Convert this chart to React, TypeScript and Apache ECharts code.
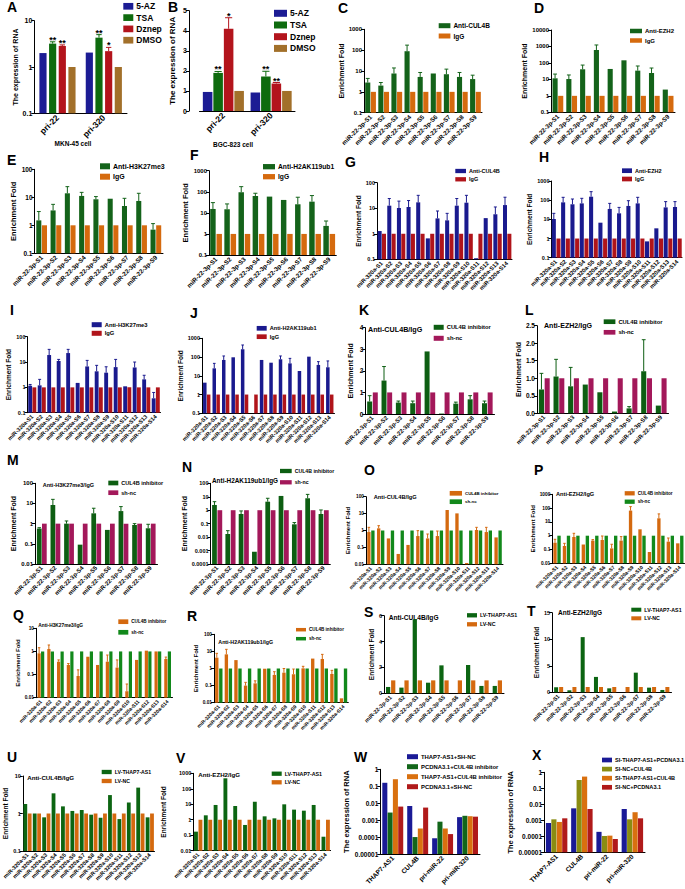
import React, { useEffect, useRef } from "react";
import * as echarts from "echarts";

const FONT = "'Liberation Sans', Arial, Helvetica, sans-serif";

// ---------------- categories ----------------
const catPri = ["pri-22", "pri-320"];
const catMiR22 = ["miR-22-3p-S1", "miR-22-3p-S2", "miR-22-3p-S3", "miR-22-3p-S4", "miR-22-3p-S5", "miR-22-3p-S6", "miR-22-3p-S7", "miR-22-3p-S8", "miR-22-3p-S9"];
const catMiR320 = ["miR-320a-S1", "miR-320a-S2", "miR-320a-S3", "miR-320a-S4", "miR-320a-S5", "miR-320a-S6", "miR-320a-S7", "miR-320a-S8", "miR-320a-S9", "miR-320a-S10", "miR-320a-S11", "miR-320a-S12", "miR-320a-S13", "miR-320a-S14"];
const catRNA = ["THAP7-AS1", "CUL4B", "pri-miR-22", "pri-miR-320"];

// ---------------- A (MKN-45 cell) ----------------
const a5AZ = [2.0, 2.05];
const aTSA = [3.2, 4.3];
const aTSASd = [0.3, 0.7];
const aDznep = [2.85, 2.2];
const aDznepSd = [0.15, 0.45];
const aDMSO = [1, 1];
const aStarsTSA = ["**", "**"];
const aStarsDznep = ["**", "*"];

// ---------------- B (BGC-823 cell) ----------------
const b5AZ = [0.95, 0.92];
const bTSA = [1.9, 1.72];
const bTSASd = [0.07, 0.26];
const bDznep = [4.1, 1.37];
const bDznepSd = [0.55, 0.05];
const bDMSO = [1.0, 1.0];
const bStarsTSA = ["**", "**"];
const bStarsDznep = ["*", "**"];

// ---------------- C-F (miR-22 ChIP) ----------------
const cAnti = [2.8, 2.0, 7.6, 89, 5.2, 7.6, 7.0, 5.2, 4.1];
const cAntiSd = [1.6, 0.8, 6.4, 85, 3.3, null, 5.3, 3.3, 2.2];
const cIgG = [1, 1, 1, 1, 1, 1, 1, 1, 1];
const dAnti = [11.6, 10.5, 41, 610, 43, 144, 34, 24.5, 2.4];
const dAntiSd = [9.4, 8, 33, 620, null, null, 31, 24.5, null];
const dIgG = [1, 1, 1, 1, 1, 1, 1, 1, 1];
const eAnti = [1.5, 3.4, 13.9, 11.2, 8.5, 8.9, 4.9, 7.4, 0.7];
const eAntiSd = [1.6, 2.2, 10.1, 3.8, 2.1, null, 4.3, 6.5, 0.45];
const eIgG = [1, 1, 1, 1, 1, 1, 1, 1, 1];
const fAnti = [15.3, 14.8, 95, 63, 59, 41, 25.5, 34, 2.4];
const fAntiSd = [15.3, 11.7, 80, 22, null, null, 29.5, 32, 1.7];
const fIgG = [1, 1, 1, 1, 1, 1, 1, 1, 1];

// ---------------- G-J (miR-320a ChIP) ----------------
const gAnti = [1.28, 12.6, 10.2, 11.2, 17, 0.66, 4.0, 3.35, 12.6, 16.5, 0.11, 4.1, 5.8, 13.3];
const gAntiSd = [null, 11.4, 8.8, 8.8, 15, null, 3.8, 2.95, 11.4, 15.5, null, null, 5.4, 13.7];
const gIgG = [1, 1, 1, 1, 1, 1, 1, 1, 1, 1, 1, 1, 1, 1];
const hAnti = [10.4, 77, 61, 68, 152, 6.7, 35, 20.6, 50, 68, 0.71, 3.4, 42, 44];
const hAntiSd = [10.2, 64, 54, 57, 126, null, 33, 21.4, 44, 73, null, null, 42, 40];
const hIgG = [1, 1, 1, 1, 1, 1, 1, 1, 1, 1, 1, 1, 1, 1];
const iAnti = [1.16, 1.2, 18.9, 11, 22.6, 1.5, 6.7, 4.3, 3.8, 6.3, 1.1, 6.1, 2.07, 0.37];
const iAntiSd = [0.14, 0.87, 12.7, 1.7, 9, null, 4.9, 3.1, 2.7, 6.4, null, 3.9, 0.93, 0.26];
const iIgG = [1, 1, 1, 1, 1, 1, 1, 1, 1, 1, 1, 1, 1, 1];
const jAnti = [4.3, 25, 70, 97, 260, null, 70, 50, 76, 46, 18, 105, 38, 28.5];
const jAntiSd = [null, 21, 44, null, 180, null, null, null, 38, 39, null, null, 19, 33.5];
const jIgG = [1, 1, 1, 1, 1, 1, 1, 1, 1, 1, 1, 1, 1, 1];

// ---------------- K-N (CUL4B inhibitor, miR-22) ----------------
const kInh = [0.58, 1.55, 0.53, 0.5, 2.9, 0.02, 0.48, 0.68, 0.5];
const kInhSd = [0.27, 0.65, 0.07, 0.1, null, null, 0.07, 0.17, 0.1];
const kNc = [1, 1, 1, 1, 1, 1, 1, 1, 1];
const lInh = [0.68, 1.05, 0.77, 0.82, 0.6, 0.05, 0.14, 1.2, 0.22];
const lInhSd = [0.46, 0.49, 0.54, null, null, null, 0.05, 0.9, null];
const lNc = [1, 1, 1, 1, 1, 1, 1, 1, 1];
const mInh = [0.57, 8.4, 1.0, 0.091, 3.25, 0.49, 4.2, 0.86, 0.59];
const mInhSd = [0.06, 7.6, 0.36, null, 2.55, null, 2.8, 0.14, 0.34];
const mNc = [1, 1, 1, 1, 1, 1, 1, 1, 1];
const nInh = [2.45, 0.017, 0.52, 0.00083, 4.3, 11.5, 0.089, 7.7, 0.52];
const nInhSd = [1.85, 0.013, 0.36, null, 3.4, null, 0.031, 7.3, 0.52];
const nNc = [1, 1, 1, 1, 1, 1, 1, 1, 1];

// ---------------- O-R (CUL4B inhibitor, miR-320a) ----------------
const oInh = [0.81, 1.34, 0.34, 0.041, 0.14, 0.47, 0.34, 0.47, 16.3, 10.3, 0.012, 1.07, 0.81, 0.39];
const oInhSd = [0.73, 0.59, null, null, null, 0.51, 0.28, 0.46, null, null, null, 0.47, 0.73, null];
const oNc = [1, 1, 1, 1, 1, 1, 1, 1, 1, 1, 1, 1, 1, 1];
const pInh = [0.31, 0.18, 0.81, 0.23, 0.44, 0.49, 0.12, 0.44, 66, 2.9, 0.066, 18.2, 0.37, 0.28];
const pInhSd = [0.24, 0.1, 0.68, null, 0.08, 0.46, 0.12, 0.42, 62, null, null, 19.8, 0.31, null];
const pNc = [1, 1, 1, 1, 1, 1, 1, 1, 1, 1, 1, 1, 1, 1];
const qInh = [0.83, 1.27, 0.36, 0.26, 0.087, 0.59, 0.26, 0.36, 0.2, 0.019, 0.43, 1.08, 1.0, 0.47];
const qInhSd = [0.62, 0.63, 0.07, 0.04, 0.073, null, null, 0.34, 0.23, 0.02, null, null, null, 0.1];
const qNc = [1, 1, 1, 1, 1, 1, 1, 1, 1, 1, 1, 1, 1, 1];
const rInh = [4.3, 6.7, 3.1, 0.1, 0.135, 0.97, 0.42, 0.57, 0.46, 1.02, 3.8, 3.6, 0.48, 0.018];
const rInhSd = [3.4, 6.5, null, 0.055, 0.055, null, 0.23, 0.43, 0.47, 0.32, null, 3.1, 0.3, null];
const rNc = [1, 1, 1, 1, 1, 1, 1, 1, 1, 1, 1, 1, 1, 1];

// ---------------- S-V (LV-THAP7-AS1) ----------------
const sLv = [0.49, 0.44, 5.72, 0.82, 2.16, 0, 2.19, 0.57, 0.57];
const sNc = [1, 1, 1, 1, 1, 1, 1, 1, 1];
const tLv = [0.95, 0.38, 10.4, 2.9, 0.75, 0, 3.7, 0.88, 0.44];
const tNc = [1, 1, 1, 1, 1, 1, 1, 1, 1];
const uLv = [1.79, 1.0, 0.79, 3.45, 1.55, 1.17, 1.24, 0.93, 0.77, 3.1, 0.71, 1.98, 4.9, 0.79];
const uNc = [1, 1, 1, 1, 1, 1, 1, 1, 1, 1, 1, 1, 1, 1];
const vLv = [0.17, 1.93, 9.0, 475, 7.7, 0.46, 14.7, 1.66, 1.23, 9.9, 4.5, 3.85, 9.0, 0.08];
const vNc = [1, 1, 1, 1, 1, 1, 1, 1, 1, 1, 1, 1, 1, 1];

// ---------------- W / X (RNA expression) ----------------
const wThapShnc = [0.16, 0.0068, 0.000085, 0.0015];
const wPcdnaInh = [0.0028, 0.0001, 0.00081, 0.0018];
const wThapInh = [0.26, 0.00032, 0.00032, 0.0017];
const wPcdnaShnc = [0.0063, 0.0055, 0.00015, 0.0016];
const xSiThapPcdna = [0.00068, 0.0056, 0.00019, 0.0051];
const xSiNcCul4b = [0.00115, 0.33, 0.000105, 0.00115];
const xSiThapCul4b = [0.00079, 0.54, 0.00011, 0.0032];
const xSiNcPcdna = [0.00133, 0.0051, 0.000068, 0.00133];

// ---------------- colours ----------------
const BLUE = "#1c1c94";
const GREEN_A = "#0e6b0e";
const RED = "#b3141c";
const BROWN = "#a2702a";
const G_ANTI = "#14631a";
const O_IGG = "#d56a0e";
const B_ANTI = "#1a1a8e";
const R_IGG = "#b0141a";
const G_INH = "#0d5e12";
const PINK = "#a3185a";
const O_INH = "#d4690f";
const G_SH = "#12891b";
const G_LV = "#0c6512";
const O_LV = "#d4690f";
const W_BLUE = "#1a1a96";
const W_GREEN = "#12661a";
const W_ORANGE = "#d9700f";
const W_RED = "#b01a1a";
const X_OLIVE = "#8a8c12";

type Ser = { name: string; data: (number | null)[]; sd?: (number | null)[]; stars?: string[]; color: string };
type Leg = { left: number; cy: number; pitch: number; size: number; iw: number; ih: number };
type Panel = {
  id: string; lx: number; ly: number;
  left: number; right: number; top: number; bottom: number; offset?: number;
  yType: "log" | "value"; yMin: number; yMax: number; yInterval?: number; fixed1?: boolean;
  yName: string; yNameGap: number; yNameSize: number; yLabelSize: number; xLabelSize: number;
  cats: string[]; series: Ser[]; catGap: number; barGap: number; legend: Leg;
  title?: { text: string; x: number; cy: number; size: number };
  xName?: { text: string; cx: number; cy: number; size: number };
};

const lg = (left: number, cy: number, pitch: number, size: number, iw: number, ih: number): Leg => ({ left, cy, pitch, size, iw, ih });
const EF = "Enrichment Fold";
const RNA = "The expression of RNA";

const panels: Panel[] = [
  { id: "A", lx: 7, ly: 2, left: 34.3, right: 127, top: 20.7, bottom: 113.3, yType: "log", yMin: 0.1, yMax: 10,
    yName: RNA, yNameGap: 15.8, yNameSize: 7, yLabelSize: 7, xLabelSize: 8.5, cats: catPri,
    series: [
      { name: "5-AZ", data: a5AZ, color: BLUE },
      { name: "TSA", data: aTSA, sd: aTSASd, stars: aStarsTSA, color: GREEN_A },
      { name: "Dznep", data: aDznep, sd: aDznepSd, stars: aStarsDznep, color: RED },
      { name: "DMSO", data: aDMSO, color: BROWN }],
    catGap: 0.22, barGap: 0.35, legend: lg(123.3, 6.3, 11.3, 8.5, 10, 6.7),
    xName: { text: "MKN-45 cell", cx: 73, cy: 143, size: 6.5 } },
  { id: "B", lx: 168, ly: 2, left: 199.5, right: 295, top: 10.7, bottom: 111, offset: 10.5, yType: "value", yMin: 0, yMax: 5, yInterval: 1,
    yName: RNA, yNameGap: 12.2, yNameSize: 8, yLabelSize: 7, xLabelSize: 8.5, cats: catPri,
    series: [
      { name: "5-AZ", data: b5AZ, color: BLUE },
      { name: "TSA", data: bTSA, sd: bTSASd, stars: bStarsTSA, color: GREEN_A },
      { name: "Dznep", data: bDznep, sd: bDznepSd, stars: bStarsDznep, color: RED },
      { name: "DMSO", data: bDMSO, color: BROWN }],
    catGap: 0.14, barGap: 0.1, legend: lg(274, 13.3, 11.7, 8.5, 13, 7),
    xName: { text: "BGC-823 cell", cx: 233, cy: 144, size: 6.5 } },
  { id: "C", lx: 338, ly: 3, left: 364, right: 482, top: 29.3, bottom: 112.7, yType: "log", yMin: 0.1, yMax: 1000,
    yName: EF, yNameGap: 18.5, yNameSize: 7, yLabelSize: 6, xLabelSize: 6.2, cats: catMiR22,
    series: [{ name: "Anti-CUL4B", data: cAnti, sd: cAntiSd, color: G_ANTI }, { name: "IgG", data: cIgG, color: O_IGG }],
    catGap: 0.18, barGap: 0.1, legend: lg(438.7, 25.7, 10.3, 6.5, 11.7, 5) },
  { id: "D", lx: 534, ly: 3, left: 551, right: 675, top: 30, bottom: 112.3, yType: "log", yMin: 0.1, yMax: 10000,
    yName: EF, yNameGap: 18.1, yNameSize: 7, yLabelSize: 6, xLabelSize: 6.2, cats: catMiR22,
    series: [{ name: "Anti-EZH2", data: dAnti, sd: dAntiSd, color: G_ANTI }, { name: "IgG", data: dIgG, color: O_IGG }],
    catGap: 0.22, barGap: 0.1, legend: lg(630, 31, 9.5, 6, 12, 4.5) },
  { id: "E", lx: 7, ly: 155, left: 34.5, right: 163, top: 169.3, bottom: 253.3, yType: "log", yMin: 0.1, yMax: 100,
    yName: EF, yNameGap: 15.8, yNameSize: 7.5, yLabelSize: 6.5, xLabelSize: 6.3, cats: catMiR22,
    series: [{ name: "Anti-H3K27me3", data: eAnti, sd: eAntiSd, color: G_ANTI }, { name: "IgG", data: eIgG, color: O_IGG }],
    catGap: 0.25, barGap: 0.12, legend: lg(100, 166.3, 10.4, 7, 10, 6) },
  { id: "F", lx: 190, ly: 150, left: 209, right: 336.3, top: 170.7, bottom: 255, yType: "log", yMin: 0.1, yMax: 1000,
    yName: EF, yNameGap: 18.1, yNameSize: 7.5, yLabelSize: 6, xLabelSize: 6.3, cats: catMiR22,
    series: [{ name: "Anti-H2AK119ub1", data: fAnti, sd: fAntiSd, color: G_ANTI }, { name: "IgG", data: fIgG, color: O_IGG }],
    catGap: 0.17, barGap: 0.15, legend: lg(263, 166.7, 10, 6.7, 12, 5.3) },
  { id: "G", lx: 345, ly: 157, left: 377, right: 512, top: 182.7, bottom: 259.3, yType: "log", yMin: 0.1, yMax: 100,
    yName: EF, yNameGap: 12.5, yNameSize: 6.5, yLabelSize: 5.5, xLabelSize: 5.8, cats: catMiR320,
    series: [{ name: "Anti-CUL4B", data: gAnti, sd: gAntiSd, color: B_ANTI }, { name: "IgG", data: gIgG, color: R_IGG }],
    catGap: 0.13, barGap: 0.08, legend: lg(455.3, 171, 8.3, 5.5, 10.7, 4.3) },
  { id: "H", lx: 539, ly: 152, left: 551.5, right: 682, top: 181, bottom: 257.7, yType: "log", yMin: 0.1, yMax: 1000,
    yName: EF, yNameGap: 14.8, yNameSize: 6.5, yLabelSize: 5.5, xLabelSize: 5.8, cats: catMiR320,
    series: [{ name: "Anti-EZH2", data: hAnti, sd: hAntiSd, color: B_ANTI }, { name: "IgG", data: hIgG, color: R_IGG }],
    catGap: 0.06, barGap: 0.15, legend: lg(622, 170.7, 8.3, 5.5, 10, 4.7) },
  { id: "I", lx: 10, ly: 305, left: 27.5, right: 160.5, top: 336.7, bottom: 412.7, yType: "log", yMin: 0.1, yMax: 100,
    yName: EF, yNameGap: 12.2, yNameSize: 6.5, yLabelSize: 5.5, xLabelSize: 5.6, cats: catMiR320,
    series: [{ name: "Anti-H3K27me3", data: iAnti, sd: iAntiSd, color: B_ANTI }, { name: "IgG", data: iIgG, color: R_IGG }],
    catGap: 0.15, barGap: 0.08, legend: lg(91.7, 324.7, 8.6, 5.8, 10, 5) },
  { id: "J", lx: 190, ly: 308, left: 202, right: 334.5, top: 338.3, bottom: 413.3, yType: "log", yMin: 0.1, yMax: 1000,
    yName: EF, yNameGap: 14.8, yNameSize: 6.5, yLabelSize: 5.5, xLabelSize: 5.6, cats: catMiR320,
    series: [{ name: "Anti-H2AK119ub1", data: jAnti, sd: jAntiSd, color: B_ANTI }, { name: "IgG", data: jIgG, color: R_IGG }],
    catGap: 0.22, barGap: 0.1, legend: lg(256.7, 328.3, 8.4, 5.6, 10, 4.7) },
  { id: "K", lx: 359, ly: 305, left: 365.3, right: 494.5, top: 327.7, bottom: 414, yType: "value", yMin: 0, yMax: 4, yInterval: 1,
    yName: EF, yNameGap: 11.5, yNameSize: 7, yLabelSize: 6.5, xLabelSize: 6, cats: catMiR22,
    series: [{ name: "CUL4B inhibitor", data: kInh, sd: kInhSd, color: G_INH }, { name: "sh-nc", data: kNc, color: PINK }],
    catGap: 0.26, barGap: 0.13, legend: lg(433.7, 327.3, 11, 5.8, 10, 5),
    title: { text: "Anti-CUL4B/IgG", x: 368, cy: 329.3, size: 7.2 } },
  { id: "L", lx: 525, ly: 305, left: 537, right: 668.5, top: 325.7, bottom: 413.3, yType: "value", yMin: 0, yMax: 2.5, yInterval: 0.5, fixed1: true,
    yName: EF, yNameGap: 14.1, yNameSize: 7, yLabelSize: 6.5, xLabelSize: 6, cats: catMiR22,
    series: [{ name: "CUL4B inhibitor", data: lInh, sd: lInhSd, color: G_INH }, { name: "sh-nc", data: lNc, color: PINK }],
    catGap: 0.26, barGap: 0.13, legend: lg(603.7, 321.7, 10.6, 5.8, 11.7, 4.7),
    title: { text: "Anti-EZH2/IgG", x: 544, cy: 325.7, size: 7.1 } },
  { id: "M", lx: 7, ly: 455, left: 35, right: 157.5, top: 483.3, bottom: 564, yType: "log", yMin: 0.01, yMax: 100,
    yName: EF, yNameGap: 15.8, yNameSize: 7, yLabelSize: 6, xLabelSize: 6, cats: catMiR22,
    series: [{ name: "CUL4B inhibitor", data: mInh, sd: mInhSd, color: G_INH }, { name: "sh-nc", data: mNc, color: PINK }],
    catGap: 0.28, barGap: 0.07, legend: lg(108.3, 483, 9.7, 5.5, 10, 4.7),
    title: { text: "Anti-H3K27me3/IgG", x: 42.7, cy: 485, size: 5.5 } },
  { id: "N", lx: 182, ly: 462, left: 210.5, right: 330.3, top: 483.3, bottom: 564, yType: "log", yMin: 0.0001, yMax: 100,
    yName: EF, yNameGap: 16.5, yNameSize: 7, yLabelSize: 5.5, xLabelSize: 6, cats: catMiR22,
    series: [{ name: "CUL4B inhibitor", data: nInh, sd: nInhSd, color: G_INH }, { name: "sh-nc", data: nNc, color: PINK }],
    catGap: 0.24, barGap: 0.13, legend: lg(280, 471, 11.3, 5.2, 11.7, 4.3),
    title: { text: "Anti-H2AK119ub1/IgG", x: 212, cy: 480.7, size: 6.4 } },
  { id: "O", lx: 364, ly: 465, left: 366, right: 503, top: 496.7, bottom: 564.3, yType: "log", yMin: 0.01, yMax: 100,
    yName: EF, yNameGap: 9.8, yNameSize: 6, yLabelSize: 4.8, xLabelSize: 5, cats: catMiR320,
    series: [{ name: "CUL4B inhibitor", data: oInh, sd: oInhSd, color: O_INH }, { name: "sh-nc", data: oNc, color: G_SH }],
    catGap: 0.25, barGap: 0.2, legend: lg(449.7, 493.3, 8.4, 4.4, 12.3, 4.7),
    title: { text: "Anti-CUL4B/IgG", x: 373.7, cy: 497.3, size: 5.7 } },
  { id: "P", lx: 534, ly: 465, left: 552.3, right: 684.5, top: 494.3, bottom: 563.3, yType: "log", yMin: 0.01, yMax: 1000,
    yName: EF, yNameGap: 11.5, yNameSize: 6, yLabelSize: 4.8, xLabelSize: 5, cats: catMiR320,
    series: [{ name: "CUL4B inhibitor", data: pInh, sd: pInhSd, color: O_INH }, { name: "sh-nc", data: pNc, color: G_SH }],
    catGap: 0.22, barGap: 0.2, legend: lg(624.7, 493.3, 8.4, 4.6, 10, 4.3),
    title: { text: "Anti-EZH2/IgG", x: 556, cy: 494.3, size: 5.65 } },
  { id: "Q", lx: 13, ly: 610, left: 36, right: 172.5, top: 628.3, bottom: 697.7, yType: "log", yMin: 0.01, yMax: 10,
    yName: EF, yNameGap: 12.5, yNameSize: 6, yLabelSize: 4.8, xLabelSize: 5, cats: catMiR320,
    series: [{ name: "CUL4B inhibitor", data: qInh, sd: qInhSd, color: O_INH }, { name: "sh-nc", data: qNc, color: G_SH }],
    catGap: 0.31, barGap: 0.1, legend: lg(118.3, 621.7, 10.6, 4.6, 10, 4.7),
    title: { text: "Anti-H3K27me3/IgG", x: 38.3, cy: 625, size: 4.8 } },
  { id: "R", lx: 187, ly: 611, left: 214, right: 348.3, top: 634.3, bottom: 702.7, yType: "log", yMin: 0.01, yMax: 100,
    yName: EF, yNameGap: 13.1, yNameSize: 6, yLabelSize: 4.8, xLabelSize: 5, cats: catMiR320,
    series: [{ name: "CUL4B inhibitor", data: rInh, sd: rInhSd, color: O_INH }, { name: "sh-nc", data: rNc, color: G_SH }],
    catGap: 0.23, barGap: 0.2, legend: lg(296, 629.7, 9, 4.6, 10, 3.5),
    title: { text: "Anti-H2AK119ub1/IgG", x: 218.3, cy: 641.7, size: 5.3 } },
  { id: "S", lx: 364, ly: 607, left: 384, right: 504, top: 615.7, bottom: 693.3, yType: "value", yMin: 0, yMax: 6, yInterval: 2,
    yName: EF, yNameGap: 6.5, yNameSize: 6.5, yLabelSize: 5.5, xLabelSize: 5.6, cats: catMiR22,
    series: [{ name: "LV-THAP7-AS1", data: sLv, color: G_LV }, { name: "LV-NC", data: sNc, color: O_LV }],
    catGap: 0.3, barGap: 0.2, legend: lg(467, 615.3, 9, 5.3, 10, 4.3),
    title: { text: "Anti-CUL4B/IgG", x: 388.7, cy: 617.3, size: 6.6 } },
  { id: "T", lx: 527, ly: 606, left: 552, right: 671.5, top: 612.7, bottom: 692.3, yType: "value", yMin: 0, yMax: 15, yInterval: 5,
    yName: EF, yNameGap: 12.2, yNameSize: 6.5, yLabelSize: 5.5, xLabelSize: 5.6, cats: catMiR22,
    series: [{ name: "LV-THAP7-AS1", data: tLv, color: G_LV }, { name: "LV-NC", data: tNc, color: O_LV }],
    catGap: 0.32, barGap: 0.25, legend: lg(631.3, 609.7, 8.6, 5.3, 10, 4),
    title: { text: "Anti-EZH2/IgG", x: 558, cy: 612.3, size: 6.5 } },
  { id: "U", lx: 7, ly: 752, left: 20.2, right: 154.5, top: 776, bottom: 851, yType: "log", yMin: 0.1, yMax: 10,
    yName: EF, yNameGap: 10.5, yNameSize: 6.5, yLabelSize: 5.5, xLabelSize: 5.5, cats: catMiR320,
    series: [{ name: "LV-THAP7-AS1", data: uLv, color: G_LV }, { name: "LV-NC", data: uNc, color: O_LV }],
    catGap: 0.13, barGap: 0.15, legend: lg(101.7, 772, 9, 5.2, 10, 4.3),
    title: { text: "Anti-CUL4B/IgG", x: 27.3, cy: 777.7, size: 6.2 } },
  { id: "V", lx: 176, ly: 753, left: 193.3, right: 330.6, top: 773.3, bottom: 850.7, yType: "log", yMin: 0.01, yMax: 1000,
    yName: EF, yNameGap: 26.5, yNameSize: 6.5, yLabelSize: 5.5, xLabelSize: 5.5, cats: catMiR320,
    series: [{ name: "LV-THAP7-AS1", data: vLv, color: G_LV }, { name: "LV-NC", data: vNc, color: O_LV }],
    catGap: 0.15, barGap: 0.15, legend: lg(271.7, 773.7, 8.6, 5.3, 10, 4.3),
    title: { text: "Anti-EZH2/IgG", x: 198.3, cy: 774.3, size: 6.15 } },
  { id: "W", lx: 354, ly: 752, left: 380.3, right: 480, top: 769.3, bottom: 854, yType: "log", yMin: 0.00001, yMax: 1,
    yName: RNA, yNameGap: 23.1, yNameSize: 7.5, yLabelSize: 6.5, xLabelSize: 6.6, cats: catRNA,
    series: [
      { name: "THAP7-AS1+SH-NC", data: wThapShnc, color: W_BLUE },
      { name: "PCDNA3.1+CUL4B inhibitor", data: wPcdnaInh, color: W_GREEN },
      { name: "THAP7-AS1+CUL4B inhibitor", data: wThapInh, color: W_ORANGE },
      { name: "PCDNA3.1+SH-NC", data: wPcdnaShnc, color: W_RED }],
    catGap: 0.16, barGap: 0.05, legend: lg(407, 756.7, 10, 5.9, 11, 5) },
  { id: "X", lx: 532, ly: 750, left: 544, right: 645, top: 772.3, bottom: 852.3, yType: "log", yMin: 0.00001, yMax: 1,
    yName: RNA, yNameGap: 21.5, yNameSize: 7.5, yLabelSize: 6.5, xLabelSize: 6.6, cats: catRNA,
    series: [
      { name: "SI-THAP7-AS1+PCDNA3.1", data: xSiThapPcdna, color: W_BLUE },
      { name: "SI-NC+CUL4B", data: xSiNcCul4b, color: X_OLIVE },
      { name: "SI-THAP7-AS1+CUL4B", data: xSiThapCul4b, color: W_ORANGE },
      { name: "SI-NC+PCDNA3.1", data: xSiNcPcdna, color: W_RED }],
    catGap: 0.15, barGap: 0.05, legend: lg(602, 760, 9.1, 5.6, 10, 4.7) },
];

const fmtNum = (v: number) => String(Number(Number(v).toPrecision(10)));

function buildOption() {
  const grid: any[] = [];
  const xAxis: any[] = [];
  const yAxis: any[] = [];
  const legend: any[] = [];
  const series: any[] = [];
  const graphic: any[] = [];

  panels.forEach((p, gi) => {
    grid.push({ left: p.left, top: p.top, width: p.right - p.left, height: p.bottom - p.top, containLabel: false });
    xAxis.push({
      gridIndex: gi, type: "category", data: p.cats,
      axisLine: { onZero: false, lineStyle: { color: "#000", width: 1 } },
      axisTick: { alignWithLabel: true, length: 2, interval: 0, lineStyle: { color: "#000" } },
      axisLabel: { rotate: 45, interval: 0, margin: 3, fontSize: p.xLabelSize, fontWeight: "bold", color: "#000", fontFamily: FONT },
      splitLine: { show: false },
    });
    const isLog = p.yType === "log";
    const decades = isLog ? Math.round(Math.log10(p.yMax / p.yMin)) : 0;
    yAxis.push({
      gridIndex: gi, type: p.yType, min: p.yMin, max: p.yMax,
      ...(isLog ? { logBase: 10, splitNumber: decades } : { interval: p.yInterval }),
      startValue: p.yMin,
      offset: p.offset || 0,
      axisLine: { show: true, lineStyle: { color: "#000", width: 1 } },
      axisTick: { show: true, length: 3, lineStyle: { color: "#000" } },
      axisLabel: {
        margin: 2, fontSize: p.yLabelSize, fontWeight: "bold", color: "#000", fontFamily: FONT,
        formatter: (v: number) => (p.fixed1 ? Number(v).toFixed(1) : fmtNum(v)),
      },
      splitLine: { show: false },
      name: p.yName, nameLocation: "middle", nameRotate: 90, nameGap: p.yNameGap,
      nameTextStyle: { fontSize: p.yNameSize, fontWeight: "bold", color: "#000", fontFamily: FONT },
    });

    const L = p.legend;
    const lh = L.size + 2;
    const boxH = Math.max(lh, L.ih);
    legend.push({
      orient: "vertical", left: L.left, top: L.cy - boxH / 2, padding: 0,
      itemGap: L.pitch - boxH, itemWidth: L.iw, itemHeight: L.ih, icon: "rect", selectedMode: false,
      data: p.series.map((s) => `${s.name}#${p.id}`),
      formatter: (n: string) => n.split("#")[0],
      textStyle: { fontSize: L.size, fontWeight: "bold", color: "#000", fontFamily: FONT, lineHeight: lh, padding: [0, 0, 0, -2] },
    });

    const nS = p.series.length;
    const band = (p.right - p.left) / p.cats.length;
    const avail = band * (1 - p.catGap);
    const bw = avail / (nS + (nS - 1) * p.barGap);
    p.series.forEach((s, k) => {
      series.push({
        type: "bar", name: `${s.name}#${p.id}`, xAxisIndex: gi, yAxisIndex: gi,
        data: s.data.map((v) => (v == null ? "-" : v)),
        barGap: `${p.barGap * 100}%`, barCategoryGap: `${p.catGap * 100}%`,
        itemStyle: { color: s.color }, silent: true, z: 2,
      });
      if (s.sd || s.stars) {
        const off = -avail / 2 + bw / 2 + k * bw * (1 + p.barGap);
        const items: number[][] = [];
        const stars: string[] = [];
        s.data.forEach((v, i) => {
          if (v == null) return;
          const sd = s.sd ? s.sd[i] : null;
          const st = s.stars ? s.stars[i] : "";
          if ((sd == null || sd === 0) && !st) return;
          items.push([i, v, v + (sd || 0)]);
          stars.push(st || "");
        });
        const cap = bw * 0.75;
        series.push({
          type: "custom", xAxisIndex: gi, yAxisIndex: gi, silent: true, z: 3, clip: false,
          encode: { x: 0, y: 2 }, data: items,
          renderItem: (params: any, api: any) => {
            const it = items[params.dataIndex];
            const pb = api.coord([it[0], it[1]]);
            const pt = api.coord([it[0], it[2]]);
            const x = pb[0] + off;
            const style = { stroke: s.color, lineWidth: 1, fill: "none" };
            const children: any[] = [];
            if (it[2] > it[1]) {
              children.push({ type: "line", shape: { x1: x, y1: pb[1], x2: x, y2: pt[1] }, style });
              children.push({ type: "line", shape: { x1: x - cap / 2, y1: pt[1], x2: x + cap / 2, y2: pt[1] }, style });
            }
            const st = stars[params.dataIndex];
            if (st) {
              children.push({
                type: "text", x, y: pt[1] - 2,
                style: { text: st, fill: "#000", fontSize: 9, fontWeight: "bold", fontFamily: FONT, align: "center", verticalAlign: "middle" },
              });
            }
            return { type: "group", children };
          },
        });
      }
    });

    graphic.push({
      type: "text", x: p.lx, y: p.ly + 5, silent: true,
      style: { text: p.id, fill: "#000", fontSize: 14, fontWeight: "bold", fontFamily: FONT, align: "left", verticalAlign: "middle" },
    });
    if (p.title) {
      graphic.push({
        type: "text", x: p.title.x, y: p.title.cy, silent: true,
        style: { text: p.title.text, fill: "#000", fontSize: p.title.size, fontWeight: "bold", fontFamily: FONT, align: "left", verticalAlign: "middle" },
      });
    }
    if (p.xName) {
      graphic.push({
        type: "text", x: p.xName.cx, y: p.xName.cy, silent: true,
        style: { text: p.xName.text, fill: "#000", fontSize: p.xName.size, fontWeight: "bold", fontFamily: FONT, align: "center", verticalAlign: "middle" },
      });
    }
  });

  return {
    animation: false,
    backgroundColor: "#ffffff",
    textStyle: { fontFamily: FONT },
    grid, xAxis, yAxis, legend, series, graphic,
  };
}

export default function App() {
  const ref = useRef<HTMLDivElement>(null);
  useEffect(() => {
    if (!ref.current) return;
    const chart = echarts.init(ref.current, null, { renderer: "svg" });
    chart.setOption(buildOption() as any);
    return () => chart.dispose();
  }, []);
  return (
    <div style={{ position: "absolute", left: 0, top: 0, width: 685, height: 889, background: "#fff" }}>
      <div ref={ref} style={{ width: 685, height: 889 }} />
    </div>
  );
}
